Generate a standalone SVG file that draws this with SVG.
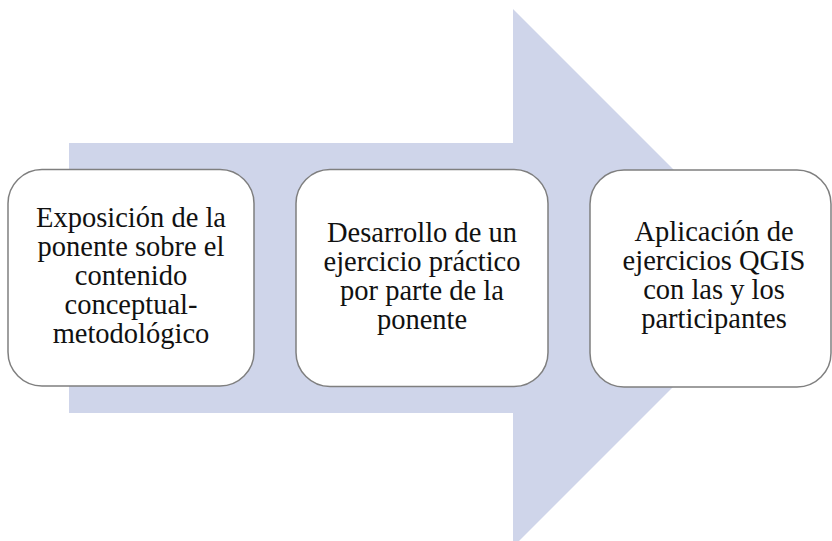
<svg xmlns="http://www.w3.org/2000/svg" width="832" height="541" viewBox="0 0 832 541">
<style>
.box{fill:#ffffff;stroke:#7f7f7f;stroke-width:1.5}
.t{font-family:"Liberation Serif","Times New Roman",serif;font-size:28.5px;fill:#111111;text-anchor:middle}
</style>
<rect width="832" height="541" fill="#ffffff"/>
<g id="arrow">
<polygon points="69,143 513,143 513,9 782,278 513,547 513,413 69,413" fill="#CFD5EA"/>
</g>
<g id="connectors"></g>
<g id="node1">
<rect class="box" x="8" y="169.5" width="246" height="216.5" rx="34"/>
<text class="t" x="131" y="227">Exposición de la</text>
<text class="t" x="131" y="256">ponente sobre el</text>
<text class="t" x="131" y="285">contenido</text>
<text class="t" x="131" y="314">conceptual-</text>
<text class="t" x="131" y="343">metodológico</text>
</g>
<g id="node2">
<rect class="box" x="296" y="169.5" width="252" height="217" rx="34"/>
<text class="t" x="422" y="242">Desarrollo de un</text>
<text class="t" x="422" y="271">ejercicio práctico</text>
<text class="t" x="422" y="300">por parte de la</text>
<text class="t" x="422" y="329">ponente</text>
</g>
<g id="node3">
<rect class="box" x="590" y="170" width="241" height="217" rx="34"/>
<text class="t" x="714" y="241">Aplicación de</text>
<text class="t" x="714" y="270">ejercicios QGIS</text>
<text class="t" x="714" y="299">con las y los</text>
<text class="t" x="714" y="328">participantes</text>
</g>
</svg>
